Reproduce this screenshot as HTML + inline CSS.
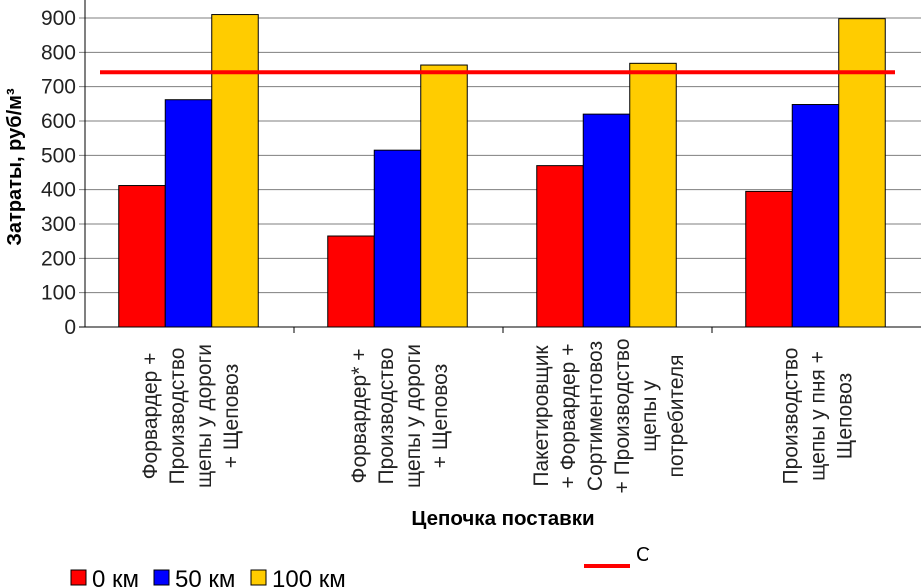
<!DOCTYPE html>
<html><head><meta charset="utf-8">
<style>
html,body{margin:0;padding:0;background:#fff;width:921px;height:588px;overflow:hidden}
text{font-family:"Liberation Sans",Arial,sans-serif}
</style></head>
<body>
<svg id="chart" width="921" height="588" xmlns="http://www.w3.org/2000/svg">
<g id="grid"></g><g id="bars"></g><g id="axes"></g><g id="labels"></g><g id="legend"></g>
</svg>
<script>
const categories = [
  ["Форвардер +","Производство","щепы у дороги","+ Щеповоз"],
  ["Форвардер* +","Производство","щепы у дороги","+ Щеповоз"],
  ["Пакетировщик","+ Форвардер +","Сортиментовоз","+ Производство","щепы у","потребителя"],
  ["Производство","щепы у пня +","Щеповоз"]
];
const seriesNames = ["0 км","50 км","100 км"];
const series0 = [412, 265, 470, 395];
const series50 = [662, 515, 620, 648];
const series100 = [910, 763, 768, 898];
const avgPrice = [742];
const yTicks = [0,100,200,300,400,500,600,700,800,900];

const NS="http://www.w3.org/2000/svg";
const colors=["#ff0000","#0000ff","#ffcc00"];
const x0=85,x1=921,yBase=327,yTop=18,yMax=900;
const catW=(x1-x0)/categories.length;
const yS=v=>yBase-(v/yMax)*(yBase-yTop);
function mk(parent,tag,attrs){const e=document.createElementNS(NS,tag);for(const k in attrs)e.setAttribute(k,attrs[k]);document.getElementById(parent).appendChild(e);return e;}

yTicks.forEach(t=>{
  const l=mk("grid","line",{x1:x0-6,x2:x1,y1:yS(t),y2:yS(t),stroke:t===0?"#000":"#7f7f7f","stroke-width":1});
  
  
  const tx=mk("axes","text",{x:76,y:yS(t)+7,"text-anchor":"end","font-size":21,fill:"#222"});
  tx.textContent=t;
  
  
});
const ax=mk("axes","line",{x1:x0,x2:x0,y1:0,y2:yBase,stroke:"#000"});


for(let i=1;i<categories.length;i++){
  const t=mk("axes","line",{x1:x0+i*catW,x2:x0+i*catW,y1:yBase,y2:yBase+6,stroke:"#000"});
  
  
}
const all=[series0,series50,series100];
const bw=46.5;
categories.forEach((c,i)=>{
  const cx=x0+catW*(i+0.5);
  all.forEach((s,j)=>{
    const bx=cx-1.5*bw+j*bw-1;
    const r=mk("bars","rect",{x:bx,y:yS(s[i]),width:bw,height:yBase-yS(s[i]),fill:colors[j],stroke:"#000","stroke-width":1});
    
    
  });
  const n=c.length;
  c.forEach((line,k)=>{
    const bxp=cx-(n-1)/2*27+k*27+8;
    const t=mk("labels","text",{x:bxp,y:416,"text-anchor":"middle","font-size":21,fill:"#222",transform:`rotate(-90 ${bxp} 416)`});
    t.textContent=line;
    
    
  });
});
const avg=mk("bars","line",{x1:100,x2:895,y1:yS(avgPrice[0]),y2:yS(avgPrice[0]),stroke:"#ff0000","stroke-width":4});



const yt=mk("labels","text",{x:0,y:0,"font-size":20,"font-weight":"bold","text-anchor":"middle",transform:"translate(21 167) rotate(-90)"});
yt.textContent="Затраты, руб/м³";


const xt=mk("labels","text",{x:503,y:525,"font-size":20.5,"font-weight":"bold","text-anchor":"middle"});
xt.textContent="Цепочка поставки";



const lx=[71,154,251];
seriesNames.forEach((nm,j)=>{
  const r=mk("legend","rect",{x:lx[j],y:570,width:15,height:15,fill:colors[j],stroke:"#000","stroke-width":1});
  
  
  const t=mk("legend","text",{x:lx[j]+21,y:587,"font-size":24});
  t.textContent=nm;
  
  
});
const ll=mk("legend","line",{x1:584,x2:630,y1:566,y2:566,stroke:"#ff0000","stroke-width":4});


const lt=mk("legend","text",{x:636,y:561,"font-size":20,fill:"#000"});
lt.textContent="Среднеконтрактная цена";


const cover=mk("legend","rect",{x:648,y:550,width:273,height:30,fill:"#fff"});


</script>
</body></html>
